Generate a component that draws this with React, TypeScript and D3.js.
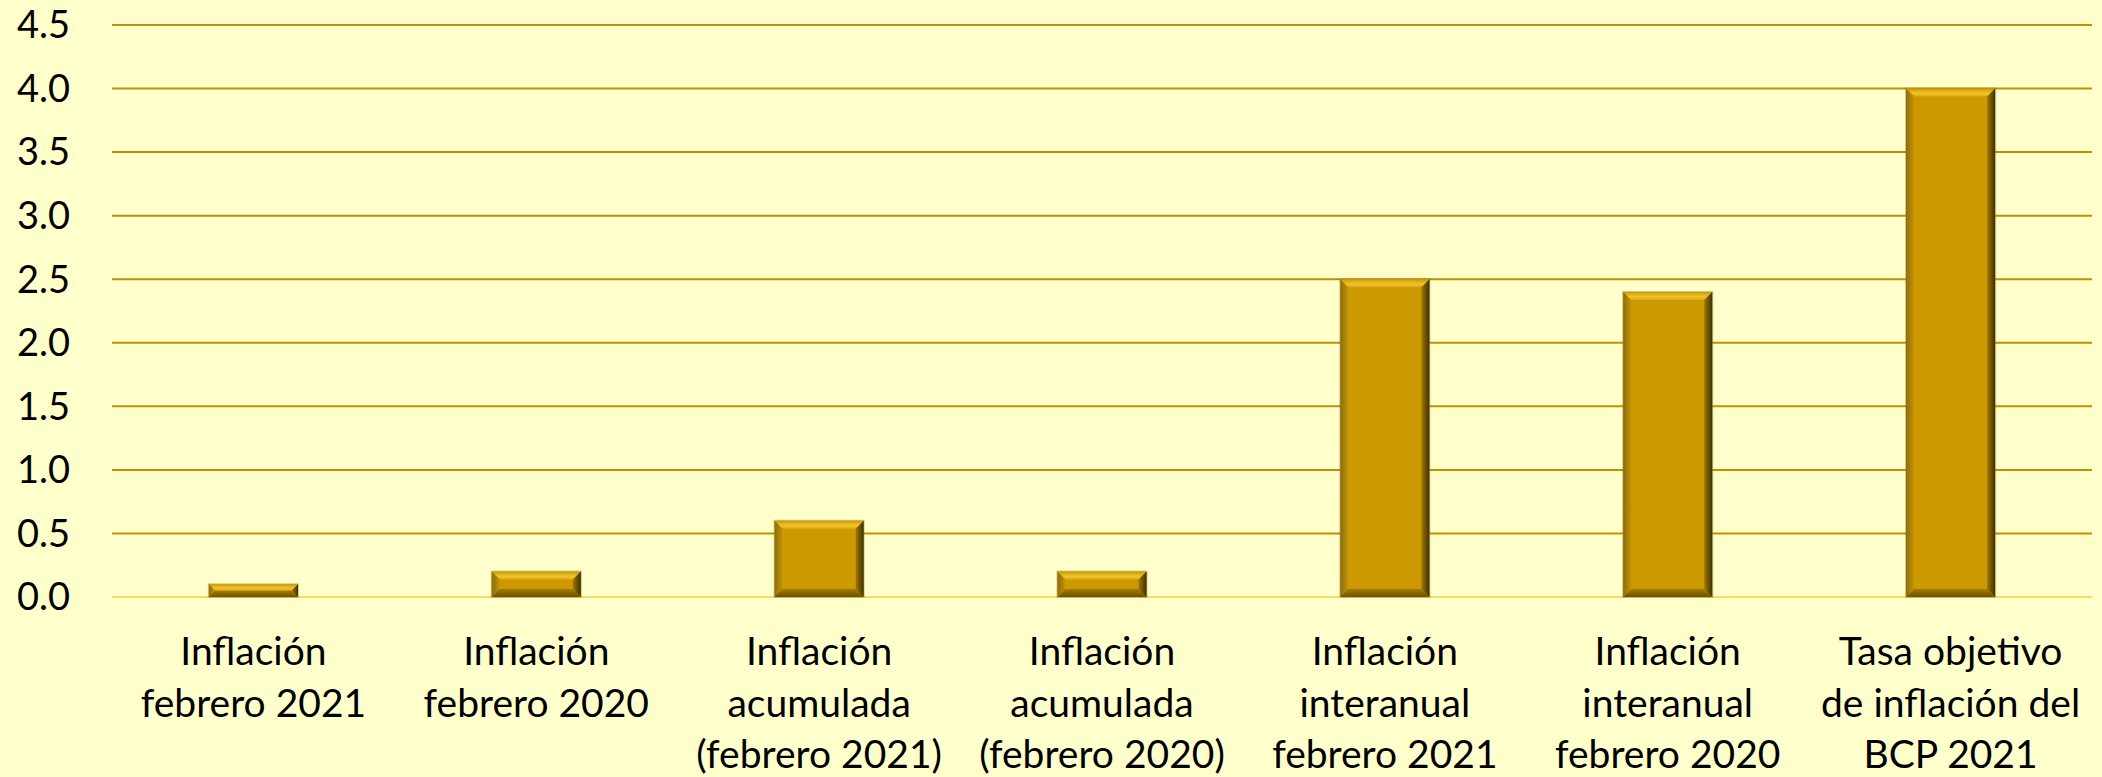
import React from "react";
import * as d3 from "d3";

const categories = [
  ["Inflación", "febrero 2021"],
  ["Inflación", "febrero 2020"],
  ["Inflación", "acumulada", "(febrero 2021)"],
  ["Inflación", "acumulada", "(febrero 2020)"],
  ["Inflación", "interanual", "febrero 2021"],
  ["Inflación", "interanual", "febrero 2020"],
  ["Tasa objetivo", "de inflación del", "BCP 2021"],
];
const values = [0.1, 0.2, 0.6, 0.2, 2.5, 2.4, 4.0];
const yTicks = [0, 0.5, 1, 1.5, 2, 2.5, 3, 3.5, 4, 4.5];

const W = 2102,
  H = 777;
const margin = { left: 112, right: 10, top: 25, bottom: 180 };
const FONT = "Lato, 'Open Sans', sans-serif";

// bar with a bevelled look
function Bar({ x, y, w, h }: { x: number; y: number; w: number; h: number }) {
  const b = Math.min(8, h / 2);
  const x1 = x + w,
    y1 = y + h;
  return (
    <g>
      <rect x={x - 1} y={y - 1} width={w + 2} height={h + 2} fill="#7a6a20" opacity={0.35} />
      <rect x={x} y={y} width={w} height={h} fill="#CC9900" />
      {/* top */}
      <polygon
        points={`${x},${y} ${x1},${y} ${x1 - b},${y + b} ${x + b},${y + b}`}
        fill="url(#bevTop)"
      />
      {/* left */}
      <polygon
        points={`${x},${y} ${x + b},${y + b} ${x + b},${y1 - b} ${x},${y1}`}
        fill="url(#bevLeft)"
      />
      {/* right */}
      <polygon
        points={`${x1},${y} ${x1},${y1} ${x1 - b},${y1 - b} ${x1 - b},${y + b}`}
        fill="url(#bevRight)"
      />
      {/* bottom */}
      <polygon
        points={`${x},${y1} ${x + b},${y1 - b} ${x1 - b},${y1 - b} ${x1},${y1}`}
        fill="url(#bevBottom)"
      />
    </g>
  );
}

export default function App() {
  const y = d3
    .scaleLinear()
    .domain([0, 4.5])
    .range([H - margin.bottom, margin.top]);
  const x = d3
    .scaleBand<number>()
    .domain(d3.range(categories.length))
    .range([margin.left, W - margin.right])
    .padding(0);
  const barW = x.bandwidth() * 0.315;

  return (
    <svg
      width={W}
      height={H}
      style={{ position: "absolute", left: 0, top: 0, background: "#FFFFCC" }}
      fontFamily={FONT}
    >
      <defs>
        <linearGradient id="bevTop" x1="0" y1="0" x2="0" y2="1">
          <stop offset="0" stopColor="#C89A08" />
          <stop offset="0.6" stopColor="#F2C42A" />
          <stop offset="1" stopColor="#DDAA10" />
        </linearGradient>
        <linearGradient id="bevLeft" x1="0" y1="0" x2="1" y2="0">
          <stop offset="0" stopColor="#8C6E10" />
          <stop offset="1" stopColor="#C49406" />
        </linearGradient>
        <linearGradient id="bevRight" x1="0" y1="0" x2="1" y2="0">
          <stop offset="0" stopColor="#A07800" />
          <stop offset="1" stopColor="#3E3000" />
        </linearGradient>
        <linearGradient id="bevBottom" x1="0" y1="0" x2="0" y2="1">
          <stop offset="0" stopColor="#A47C00" />
          <stop offset="1" stopColor="#6A5200" />
        </linearGradient>
      </defs>
      <rect x={0} y={0} width={W} height={H} fill="#FFFFCC" />

      {yTicks.map((t) => (
        <g key={t}>
          <line
            x1={margin.left}
            x2={W - margin.right}
            y1={y(t)}
            y2={y(t)}
            stroke={t === 0 ? "#FFD966" : "#C09000"}
            strokeWidth={2}
          />
          <text
            x={70}
            y={y(t)}
            dy="0.35em"
            textAnchor="end"
            fontSize={38}
            fill="#000"
          >
            {d3.format(".1f")(t)}
          </text>
        </g>
      ))}

      {values.map((v, i) => {
        const cx = (x(i) as number) + x.bandwidth() / 2;
        return (
          <Bar
            key={i}
            x={cx - barW / 2}
            y={y(v)}
            w={barW}
            h={y(0) - y(v)}
          />
        );
      })}

      {categories.map((lines, i) => {
        const cx = (x(i) as number) + x.bandwidth() / 2;
        return (
          <text key={i} textAnchor="middle" fontSize={39} fill="#000">
            {lines.map((l, j) => (
              <tspan key={j} x={cx} y={665 + j * 51.5}>
                {l}
              </tspan>
            ))}
          </text>
        );
      })}
    </svg>
  );
}
